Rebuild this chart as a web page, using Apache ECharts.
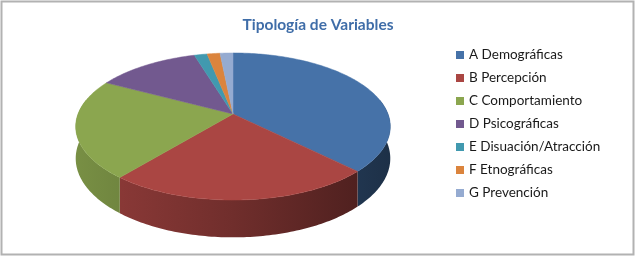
<!DOCTYPE html>
<html><head><meta charset="utf-8">
<script src="https://cdn.jsdelivr.net/npm/echarts@6/dist/echarts.min.js"></script>
<style>html,body{margin:0;padding:0;background:#fff}#c{width:636px;height:258px}</style>
</head><body><div id="c"></div>
<script>
const categories = ['A Demográficas','B Percepción','C Comportamiento','D Psicográficas','E Disuación/Atracción','F Etnográficas','G Prevención'];
const values = [24, 15, 14, 8, 1, 1, 1];
const colors = ['#4672A8','#AA4643','#8BA64F','#72598F','#4199AF','#DB843D','#95ABD1'];

// 3D pie geometry (perspective-projected disc)
const G = {cx: 233, cy: 114, a: 155, b: 71.4, p: 0.17, t: 31, x0: 76, x1: 391};
const total = values.reduce((s, v) => s + v, 0);
const starts = [], ends = [];
(function(){ let acc = -90; values.forEach(v => { starts.push(acc); acc += v / total * 360; ends.push(acc); }); })();

function proj(deg, dz) {
  const r = deg * Math.PI / 180, u = Math.cos(r), v = Math.sin(r), w = 1 - G.p * v;
  return [G.cx + G.a * u / w, G.cy + (G.b * v + dz) / w];
}
function shade(hex, f) {
  const n = parseInt(hex.slice(1), 16);
  const r = Math.round(((n >> 16) & 255) * f), g = Math.round(((n >> 8) & 255) * f), b = Math.round((n & 255) * f);
  return 'rgb(' + r + ',' + g + ',' + b + ')';
}
function arc(a0, a1, dz) {
  const pts = [], n = Math.max(2, Math.ceil(Math.abs(a1 - a0)));
  for (let i = 0; i <= n; i++) pts.push(proj(a0 + (a1 - a0) * i / n, dz));
  return pts;
}
function renderSlice(idx) {
  const s = starts[idx], e = ends[idx], col = colors[idx], children = [];
  const w0 = Math.max(s, -12), w1 = Math.min(e, 192);
  if (w1 > w0) {
    const pts = arc(w0, w1, 0).concat(arc(w1, w0, G.t));
    children.push({type: 'polygon', shape: {points: pts}, style: {
      fill: {type: 'linear', x: G.x0, y: 0, x2: G.x1, y2: 0, global: true,
        colorStops: [{offset: 0, color: shade(col, 0.86)}, {offset: 0.5, color: shade(col, 0.66)}, {offset: 1, color: shade(col, 0.42)}]},
      stroke: null}});
  }
  const top = [[G.cx, G.cy]].concat(arc(s, e, 0));
  children.push({type: 'polygon', shape: {points: top}, style: {fill: col, stroke: col, lineWidth: 0.5}});
  return {type: 'group', children: children};
}

const series = categories.map((name, i) => ({
  name: name, type: 'custom', coordinateSystem: 'none',
  itemStyle: {color: colors[i]},
  data: [[values[i]]],
  renderItem: () => renderSlice(i),
  silent: true, animation: false
}));

const chart = echarts.init(document.getElementById('c'), null, {renderer: 'canvas'});
chart.setOption({
  animation: false,
  color: colors,
  title: {text: 'Tipología de Variables', left: 'center', top: 12,
    textStyle: {fontFamily: 'Lato', fontWeight: 'bold', fontSize: 15.5, color: '#3F6DA8'}},
  legend: {orient: 'vertical', left: 451, top: 43, itemWidth: 8, itemHeight: 8, itemGap: 9,
    icon: 'rect', selectedMode: false,
    textStyle: {fontFamily: 'Lato', fontSize: 13.5, color: '#1a1a1a', lineHeight: 14},
    data: categories},
  graphic: [{type: 'rect', shape: {x: 1.5, y: 1.5, width: 632, height: 253},
    style: {fill: null, stroke: '#B2B2B2', lineWidth: 2}, silent: true}],
  series: series
});
</script></body></html>
